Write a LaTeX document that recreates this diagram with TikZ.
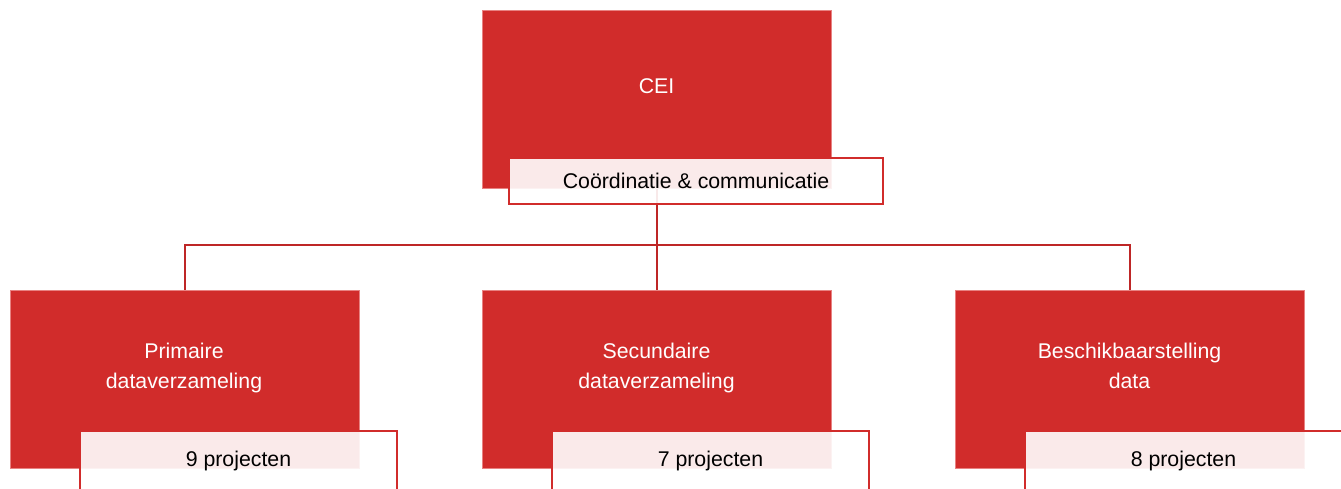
\documentclass[tikz,border=0pt]{standalone}
\usepackage{fontspec}
\setmainfont{Liberation Sans}
\usetikzlibrary{calc}
\definecolor{cred}{RGB}{209,44,43}
\definecolor{cline}{RGB}{190,38,38}
\definecolor{cedge}{RGB}{232,130,130}
\begin{document}
\begin{tikzpicture}[x=1pt,y=-1pt,
  mainbox/.style={draw=cedge, line width=0.8pt, fill=cred, rectangle, inner sep=0pt, anchor=north west, minimum width=349pt, minimum height=178pt},
  labbox/.style={draw=cred, line width=2pt, fill=white, fill opacity=0.9, text opacity=1, text=black, rectangle, anchor=north west, inner sep=0pt, font=\fontsize{21.3}{26}\selectfont},
  wtext/.style={text=white, font=\fontsize{21.3}{30}\selectfont, align=center, inner sep=0pt},
  conn/.style={draw=cline, line width=2.2pt}]
\useasboundingbox (0,0) rectangle (1341,488);
\node[mainbox] (cei) at (482,10) {};
\node[mainbox] (b1) at (10,290) {};
\node[mainbox] (b2) at (482,290) {};
\node[mainbox] (b3) at (955,290) {};
\coordinate (hj) at ($(cei.south)+(0,56)$);
\draw[conn] (cei.south) -- (hj);
\draw[conn] (hj) -| (b1.north);
\draw[conn] (hj) -| (b3.north);
\draw[conn] (hj) -- (b2.north);
\node[wtext] (tcei) at (656.5,86) {CEI};
\node[wtext] (t1) at (184,368) {Primaire\\dataverzameling};
\node[wtext] (t2) at (656.5,368) {Secundaire\\dataverzameling};
\node[wtext] (t3) at (1129.5,366) {Beschikbaarstelling\\data};
\node[labbox, minimum width=374pt, minimum height=46pt] (l0) at (508,157) {Coördinatie \& communicatie};
\node[labbox, minimum width=317pt, minimum height=60pt] (l1) at (79,430) {9 projecten};
\node[labbox, minimum width=317pt, minimum height=60pt] (l2) at (551,430) {7 projecten};
\node[labbox, minimum width=317pt, minimum height=60pt] (l3) at (1024,430) {8 projecten};
\end{tikzpicture}
\end{document}
